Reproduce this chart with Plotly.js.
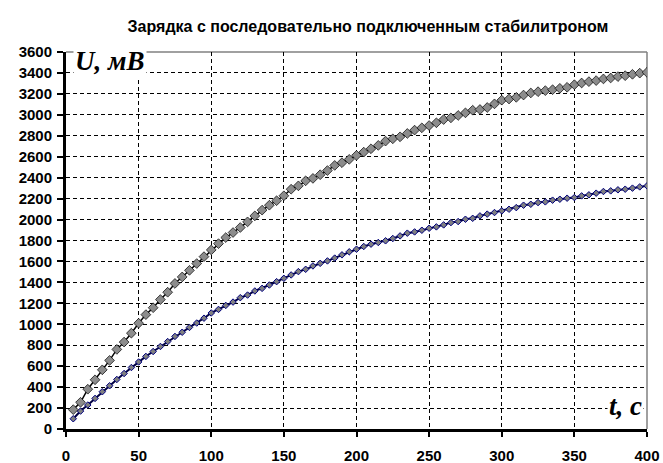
<!DOCTYPE html>
<html>
<head>
<meta charset="utf-8">
<script src="https://cdn.plot.ly/plotly-3.0.1.min.js"></script>
<style>
  html, body { margin: 0; padding: 0; background: #fff; }
  #chart { width: 663px; height: 463px; }
</style>
</head>
<body>
<div id="chart"></div>
<script>
// time, s
const tSec = [5, 10, 15, 20, 25, 30, 35, 40, 45, 50, 55, 60, 65, 70, 75, 80, 85, 90, 95, 100,
  105, 110, 115, 120, 125, 130, 135, 140, 145, 150, 155, 160, 165, 170, 175, 180, 185, 190, 195, 200,
  205, 210, 215, 220, 225, 230, 235, 240, 245, 250, 255, 260, 265, 270, 275, 280, 285, 290, 295, 300,
  305, 310, 315, 320, 325, 330, 335, 340, 345, 350, 355, 360, 365, 370, 375, 380, 385, 390, 395, 400];

// upper curve, mV
const uUpper = [185, 255, 380, 470, 565, 655, 760, 830, 915, 1010, 1092, 1158, 1236, 1306, 1390, 1452, 1515, 1580, 1646, 1710,
  1770, 1828, 1876, 1924, 1978, 2035, 2090, 2137, 2180, 2227, 2290, 2322, 2370, 2393, 2428, 2468, 2517, 2543, 2575, 2613,
  2644, 2676, 2708, 2749, 2771, 2790, 2822, 2854, 2876, 2898, 2924, 2955, 2971, 2994, 3019, 3044, 3051, 3070, 3105, 3140,
  3151, 3167, 3189, 3209, 3221, 3231, 3240, 3253, 3263, 3288, 3304, 3317, 3327, 3343, 3352, 3365, 3374, 3387, 3398, 3406];

// lower curve, mV
const uLower = [98, 171, 229, 292, 356, 413, 473, 530, 587, 640, 693, 740, 788, 835, 884, 924, 970, 1012, 1058, 1108,
  1142, 1180, 1212, 1254, 1279, 1318, 1343, 1375, 1407, 1439, 1471, 1503, 1525, 1557, 1582, 1605, 1632, 1663, 1692, 1717,
  1743, 1765, 1781, 1797, 1819, 1844, 1870, 1882, 1898, 1917, 1930, 1949, 1971, 1981, 2003, 2012, 2035, 2052, 2067, 2083,
  2098, 2114, 2137, 2146, 2162, 2169, 2185, 2194, 2204, 2210, 2226, 2236, 2252, 2268, 2274, 2284, 2290, 2300, 2312, 2322];

const yTicks = [0, 200, 400, 600, 800, 1000, 1200, 1400, 1600, 1800, 2000, 2200, 2400, 2600, 2800, 3000, 3200, 3400, 3600];
const xTicks = [0, 50, 100, 150, 200, 250, 300, 350, 400];

const data = [
    {
        x: tSec,
        y: uLower,
        type: 'scatter',
        mode: 'lines+markers',
        line: {color: '#000040', width: 2},
        marker: {symbol: 'diamond', size: 5, color: '#808080', line: {color: '#000080', width: 1}},
        hoverinfo: 'skip'
    },
    {
        x: tSec,
        y: uUpper,
        type: 'scatter',
        mode: 'lines+markers',
        line: {color: '#000000', width: 1.5},
        marker: {symbol: 'diamond', size: 7.5, color: '#8c8c8c', line: {color: '#000000', width: 0.7}},
        hoverinfo: 'skip'
    }
];

const tickFont = {family: 'Liberation Sans, Arial, sans-serif', size: 15, color: '#000', weight: 'bold'};

const layout = {
    width: 663,
    height: 463,
    autosize: false,
    showlegend: false,
    paper_bgcolor: '#fff',
    plot_bgcolor: '#fff',
    margin: {l: 66, r: 16, t: 52, b: 34, pad: 0},
    title: {
        text: '<b>Зарядка с последовательно подключенным стабилитроном</b>',
        font: {family: 'Liberation Sans, Arial, sans-serif', size: 16, color: '#000'},
        x: 0.555,
        xanchor: 'center',
        y: 0.944,
        yanchor: 'middle'
    },
    xaxis: {
        range: [0, 400],
        tickvals: xTicks,
        ticks: 'outside',
        ticklen: 5,
        tickwidth: 2,
        tickcolor: '#000',
        ticklabelstandoff: 6,
        showline: true,
        linecolor: '#000',
        linewidth: 3,
        showgrid: true,
        gridcolor: '#000',
        griddash: '4px,3px',
        gridwidth: 1,
        zeroline: false,
        tickfont: tickFont
    },
    yaxis: {
        range: [0, 3600],
        tickvals: yTicks,
        ticks: 'outside',
        ticklen: 6,
        tickwidth: 2,
        tickcolor: '#000',
        ticklabelstandoff: 2,
        showline: true,
        linecolor: '#000',
        linewidth: 3,
        showgrid: true,
        gridcolor: '#000',
        griddash: '4px,3px',
        gridwidth: 1,
        zeroline: false,
        tickfont: tickFont
    },
    shapes: [
        {type: 'line', xref: 'paper', yref: 'paper', x0: 0, x1: 1, y0: 1, y1: 1,
         line: {color: '#808080', width: 1.5}, layer: 'below'},
        {type: 'line', xref: 'paper', yref: 'paper', x0: 1, x1: 1, y0: 0, y1: 1,
         line: {color: '#808080', width: 1.5}, layer: 'below'}
    ],
    annotations: [
        {
            text: '<b><i>U, мВ</i></b>',
            xref: 'paper', yref: 'paper',
            x: 0.012, y: 1.02,
            xanchor: 'left', yanchor: 'top',
            showarrow: false,
            bgcolor: '#fff',
            font: {family: 'Liberation Serif, Times New Roman, serif', size: 27, color: '#000'}
        },
        {
            text: '<b><i>t, c</i></b>',
            xref: 'paper', yref: 'paper',
            x: 0.995, y: 0.015,
            xanchor: 'right', yanchor: 'bottom',
            showarrow: false,
            bgcolor: '#fff',
            font: {family: 'Liberation Serif, Times New Roman, serif', size: 27, color: '#000'}
        }
    ]
};

Plotly.newPlot('chart', data, layout, {staticPlot: true, displayModeBar: false});
</script>
</body>
</html>
